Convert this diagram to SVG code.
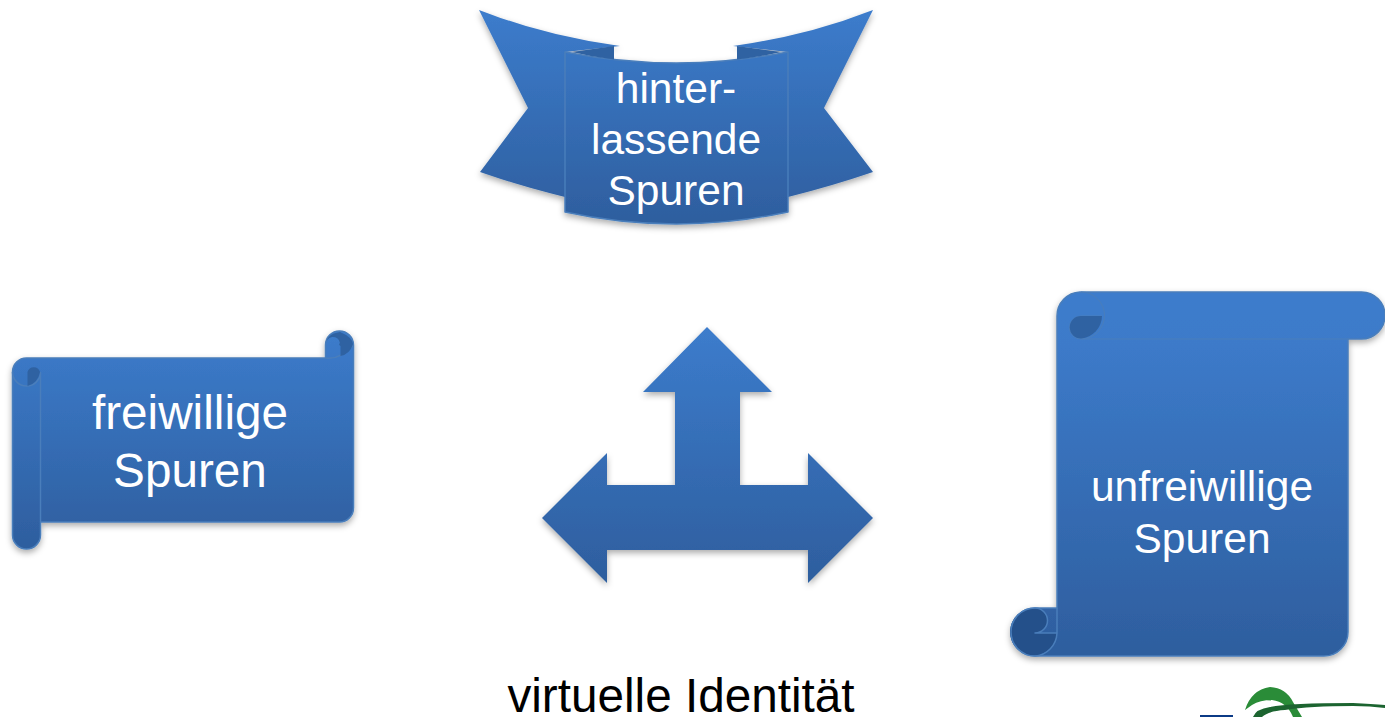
<svg xmlns="http://www.w3.org/2000/svg" width="1385" height="717" viewBox="0 0 1385 717">
<style>
.s{stroke:#4a7ebb;stroke-width:1.5;stroke-linejoin:round}
.d{fill:#2f62a2}
.dd{fill:#24508a}
.t{font-family:"Liberation Sans",Arial,sans-serif;fill:#fff;text-anchor:middle}
.b{font-family:"Liberation Sans",Arial,sans-serif;fill:#000;text-anchor:middle}
</style>
<defs>
<filter id="sh" x="-10%" y="-10%" width="120%" height="125%"><feDropShadow dx="0" dy="3" stdDeviation="3" flood-color="#000" flood-opacity="0.33"/></filter>
<linearGradient id="g1" gradientUnits="userSpaceOnUse" x1="0" y1="10" x2="0" y2="224"><stop offset="0" stop-color="#3c7ccc"/><stop offset="1" stop-color="#2e5e9e"/></linearGradient>
<linearGradient id="g2" gradientUnits="userSpaceOnUse" x1="0" y1="330" x2="0" y2="550"><stop offset="0" stop-color="#3c7ccc"/><stop offset="1" stop-color="#2e5e9e"/></linearGradient>
<linearGradient id="g3" gradientUnits="userSpaceOnUse" x1="0" y1="292" x2="0" y2="656"><stop offset="0" stop-color="#3c7ccc"/><stop offset="0.15" stop-color="#3c7ac9"/><stop offset="1" stop-color="#2e5e9e"/></linearGradient>
<linearGradient id="g4" gradientUnits="userSpaceOnUse" x1="0" y1="327" x2="0" y2="582"><stop offset="0" stop-color="#3c7ccc"/><stop offset="1" stop-color="#2e5e9e"/></linearGradient>
</defs>

<g id="node-hinterlassende">
<g filter="url(#sh)">
<path d="M479 10Q545 36 620 46L565 52L565 197Q520 186 480 172L528 108Z" fill="url(#g1)"/>
<path d="M873 10Q807 36 733 46L788 52L788 197Q832 186 873 172L824 108Z" fill="url(#g1)"/>
<path d="M565 52Q676 74 788 52L788 212Q676 236 565 212Z" fill="url(#g1)" class="s"/>
</g>
<path class="d" d="M572 52L614 46L614 59.500Q592 57 572 52Z"/>
<path class="d" d="M781 52L737 46L737 59.500Q760 57 781 52Z"/>
<text class="t" font-size="42.500" x="676" y="103">hinter-</text>
<text class="t" font-size="42.500" x="676" y="154">lassende</text>
<text class="t" font-size="42.500" x="676" y="205">Spuren</text>
</g>

<g id="node-freiwillige">
<g filter="url(#sh)">
<path d="M339.500 331A14 14 0 0 1 353.500 345L353.500 508A14 14 0 0 1 339.500 522L40.500 522L40.500 535A14 14 0 0 1 12.500 535L12.500 372A14 14 0 0 1 26.500 358L325.500 358L325.500 345A14 14 0 0 1 339.500 331Z" fill="url(#g2)" class="s"/>
</g>
<path fill="none" class="s" d="M40.500 372L40.500 522M12.500 372A14 14 0 0 0 40.500 372M325.500 358Q340 360 353.500 345"/>
<path class="d" d="M27.500 386L27.500 372A6.500 6.500 0 0 1 40 372Q38 383 27.500 386Z"/>
<path class="d" d="M326 356L326 345A7 7 0 0 1 340 343Q338 344.500 340.500 346L340.500 356Q350 354 353 344Q352 337 340 332Q326 334 326 345Z"/>
<text class="t" font-size="47.700" x="190" y="429">freiwillige</text>
<text class="t" font-size="47.700" x="190" y="487">Spuren</text>
</g>

<g id="node-arrow">
<path filter="url(#sh)" fill="url(#g4)" d="M707 327L772 392L740 392L740 485L808 485L808 453L873 518L808 583L808 550L607 550L607 583L542 518L607 453L607 485L675 485L675 392L643 392Z"/>
</g>

<g id="node-unfreiwillige">
<g filter="url(#sh)">
<path d="M1080 292L1361.500 292A23.500 23.500 0 0 1 1361.500 339L1348 339L1348 632A24 24 0 0 1 1324 656L1035 656A24 24 0 0 1 1035 608L1057 608L1057 316A24 24 0 0 1 1080 292Z" fill="url(#g3)" class="s"/>
</g>
<path fill="none" stroke="#4a7ebb" stroke-width="1" d="M1081 292A23.500 23.500 0 0 1 1081 339L1349 339M1081 339A11.500 11.500 0 0 1 1081 316L1102 316"/>
<path class="d" d="M1081 316L1102 316A23 23 0 0 1 1081 338.500A11.250 11.250 0 0 1 1081 316Z"/>
<path class="dd" d="M1035 608.500A23.500 23.500 0 1 0 1057 633L1035 633A12 12 0 0 0 1035 608.500Z"/>
<path fill="none" class="s" d="M1035 608A24 24 0 0 0 1035 656M1035 608A12 12 0 0 1 1035 633L1057 633M1057 608L1057 633A24 24 0 0 1 1035 656"/>
<text class="t" font-size="42.500" x="1202" y="501">unfreiwillige</text>
<text class="t" font-size="42.500" x="1202" y="553">Spuren</text>
</g>

<g id="node-caption">
<text class="b" font-size="47.700" x="681" y="712">virtuelle Identität</text>
</g>

<g id="node-logo">
<rect x="1200" y="715" width="33" height="2" fill="#0b3a86"/>
<path fill="#2a8c38" d="M1245 710Q1251 690 1270 687Q1286 688 1293 702L1302 717L1293 717Q1287 702 1272 700Q1260 700 1252 705Z"/>
<path fill="#1c6430" d="M1253 717Q1256 709 1270 707Q1290 703 1353 703Q1372 704 1385 705L1385 708Q1370 706 1353 706Q1310 706 1285 710Q1268 711 1262 717Z"/>
</g>

<g id="connectors"></g>
</svg>
